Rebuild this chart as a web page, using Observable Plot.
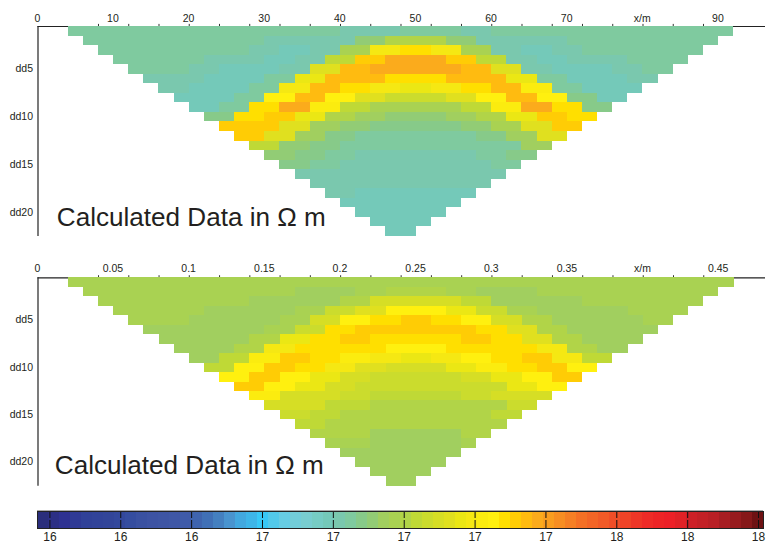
<!DOCTYPE html>
<html>
<head>
<meta charset="utf-8">
<script src="https://cdn.jsdelivr.net/npm/d3@7"></script>
<script src="https://cdn.jsdelivr.net/npm/@observablehq/plot@0.6"></script>
<style>
html,body{margin:0;padding:0;background:#fff;width:768px;height:545px;overflow:hidden}
.p{position:absolute;left:0}
svg{display:block}
</style>
</head>
<body>
<div class="p" id="a" style="top:0"></div>
<div class="p" id="b" style="top:250px"></div>
<div class="p" id="c" style="top:500px"></div>
<script>
const titleText = "Calculated Data in \u03a9 m";

const topRows = [
[16.85,16.85,16.85,16.85,16.85,16.85,16.85,16.85,16.85,16.85,16.85,16.85,16.85,16.85,16.85,16.85,16.85,16.85,16.82,16.82,16.82,16.82,16.85,16.85,16.85,16.85,16.82,16.82,16.85,16.85,16.85,16.85,16.85,16.85,16.85,16.85,16.85,16.85,16.85,16.85,16.85,16.85,16.85,16.85],
[16.85,16.85,16.85,16.85,16.85,16.85,16.85,16.85,16.85,16.85,16.85,16.85,16.82,16.82,16.82,16.82,16.82,16.82,16.91,16.91,17.00,17.00,17.00,17.00,16.91,16.91,16.82,16.82,16.82,16.82,16.82,16.82,16.85,16.85,16.85,16.85,16.85,16.85,16.85,16.85,16.85,16.85],
[16.85,16.85,16.85,16.85,16.85,16.85,16.85,16.85,16.85,16.85,16.82,16.82,16.79,16.79,16.82,16.82,16.97,16.97,17.19,17.19,17.28,17.28,17.19,17.19,16.97,16.97,16.82,16.82,16.79,16.79,16.82,16.82,16.85,16.85,16.85,16.85,16.85,16.85,16.85,16.85],
[16.85,16.85,16.85,16.85,16.85,16.85,16.82,16.82,16.82,16.82,16.79,16.79,16.82,16.82,17.04,17.04,17.32,17.32,17.38,17.38,17.38,17.38,17.32,17.32,17.04,17.04,16.82,16.82,16.79,16.79,16.82,16.82,16.82,16.82,16.85,16.85,16.85,16.85],
[16.85,16.85,16.85,16.85,16.82,16.82,16.79,16.79,16.79,16.79,16.82,16.82,17.13,17.13,17.35,17.35,17.38,17.38,17.38,17.38,17.38,17.38,17.35,17.35,17.13,17.13,16.82,16.82,16.79,16.79,16.79,16.79,16.82,16.82,16.85,16.85],
[16.82,16.82,16.82,16.82,16.79,16.79,16.79,16.79,16.85,16.85,17.16,17.16,17.35,17.35,17.35,17.35,17.28,17.28,17.28,17.28,17.35,17.35,17.35,17.35,17.16,17.16,16.85,16.85,16.79,16.79,16.79,16.79,16.82,16.82],
[16.82,16.82,16.79,16.79,16.79,16.79,16.85,16.85,17.19,17.19,17.35,17.35,17.28,17.28,17.19,17.19,17.16,17.16,17.19,17.19,17.28,17.28,17.35,17.35,17.22,17.22,16.85,16.85,16.79,16.79,16.79,16.79],
[16.79,16.79,16.79,16.79,16.85,16.85,17.25,17.25,17.35,17.35,17.25,17.25,17.13,17.13,17.07,17.07,17.07,17.07,17.13,17.13,17.25,17.25,17.35,17.35,17.25,17.25,16.88,16.88,16.79,16.79],
[16.79,16.79,16.85,16.85,17.28,17.28,17.38,17.38,17.22,17.22,17.04,17.04,16.97,16.97,16.97,16.97,16.97,16.97,17.04,17.04,17.22,17.22,17.38,17.38,17.28,17.28,16.88,16.88],
[16.88,16.88,17.28,17.28,17.32,17.32,17.16,17.16,17.00,17.00,16.94,16.94,16.91,16.91,16.91,16.91,16.94,16.94,17.00,17.00,17.16,17.16,17.32,17.32,17.28,17.28],
[17.32,17.32,17.32,17.32,17.13,17.13,16.94,16.94,16.91,16.91,16.88,16.88,16.88,16.88,16.88,16.88,16.91,16.91,16.97,16.97,17.13,17.13,17.32,17.32],
[17.32,17.32,17.13,17.13,16.94,16.94,16.88,16.88,16.85,16.85,16.85,16.85,16.85,16.85,16.85,16.85,16.88,16.88,16.94,16.94,17.13,17.13],
[17.04,17.04,16.91,16.91,16.88,16.88,16.85,16.85,16.85,16.85,16.85,16.85,16.85,16.85,16.85,16.85,16.85,16.85,16.94,16.94],
[16.91,16.91,16.88,16.88,16.85,16.85,16.82,16.82,16.82,16.82,16.82,16.82,16.82,16.82,16.85,16.85,16.88,16.88],
[16.88,16.88,16.85,16.85,16.82,16.82,16.82,16.82,16.82,16.82,16.82,16.82,16.82,16.82,16.85,16.85],
[16.82,16.82,16.82,16.82,16.82,16.82,16.82,16.82,16.82,16.82,16.82,16.82,16.82,16.82],
[16.82,16.82,16.82,16.82,16.82,16.82,16.82,16.82,16.82,16.82,16.82,16.82],
[16.82,16.82,16.79,16.79,16.79,16.79,16.79,16.79,16.79,16.79],
[16.79,16.79,16.79,16.79,16.79,16.79,16.79,16.79],
[16.79,16.79,16.79,16.79,16.79,16.79],
[16.79,16.79,16.79,16.79],
[16.79,16.79]
];

const bottomRows = [
[16.97,16.97,16.97,16.97,16.97,16.97,16.97,16.97,16.97,16.97,16.97,16.97,16.97,16.97,16.97,16.97,16.97,16.97,16.97,16.97,16.97,16.97,16.97,16.97,16.97,16.97,16.97,16.97,16.97,16.97,16.97,16.97,16.97,16.97,16.97,16.97,16.97,16.97,16.97,16.97,16.97,16.97,16.97,16.97],
[16.97,16.97,16.97,16.97,16.97,16.97,16.97,16.97,16.97,16.97,16.97,16.97,16.97,16.97,16.94,16.94,16.94,16.94,16.97,16.97,17.00,17.00,17.00,17.00,16.97,16.97,16.94,16.94,16.94,16.94,16.97,16.97,16.97,16.97,16.97,16.97,16.97,16.97,16.97,16.97,16.97,16.97],
[16.97,16.97,16.97,16.97,16.97,16.97,16.97,16.97,16.97,16.97,16.94,16.94,16.94,16.94,16.94,16.94,17.00,17.00,17.10,17.10,17.10,17.10,17.10,17.10,17.04,17.04,16.94,16.94,16.94,16.94,16.94,16.94,16.97,16.97,16.97,16.97,16.97,16.97,16.97,16.97],
[16.97,16.97,16.97,16.97,16.97,16.97,16.94,16.94,16.94,16.94,16.94,16.94,16.97,16.97,17.07,17.07,17.13,17.13,17.25,17.25,17.25,17.25,17.16,17.16,17.07,17.07,16.97,16.97,16.94,16.94,16.94,16.94,16.94,16.94,16.97,16.97,16.97,16.97],
[16.97,16.97,16.97,16.97,16.94,16.94,16.94,16.94,16.94,16.94,16.97,16.97,17.10,17.10,17.25,17.25,17.28,17.28,17.32,17.32,17.28,17.28,17.25,17.25,17.10,17.10,17.00,17.00,16.94,16.94,16.94,16.94,16.94,16.94,16.97,16.97],
[16.94,16.94,16.94,16.94,16.94,16.94,16.94,16.94,16.97,16.97,17.07,17.07,17.28,17.28,17.32,17.32,17.32,17.32,17.32,17.32,17.32,17.32,17.28,17.28,17.13,17.13,17.00,17.00,16.94,16.94,16.94,16.94,16.94,16.94],
[16.94,16.94,16.94,16.94,16.94,16.94,17.00,17.00,17.16,17.16,17.28,17.28,17.32,17.32,17.28,17.28,17.28,17.28,17.28,17.28,17.32,17.32,17.28,17.28,17.13,17.13,17.00,17.00,16.94,16.94,16.94,16.94],
[16.94,16.94,16.94,16.94,17.00,17.00,17.19,17.19,17.28,17.28,17.28,17.28,17.28,17.28,17.25,17.25,17.25,17.25,17.28,17.28,17.28,17.28,17.28,17.28,17.19,17.19,17.00,17.00,16.94,16.94],
[16.94,16.94,17.04,17.04,17.22,17.22,17.32,17.32,17.28,17.28,17.22,17.22,17.19,17.19,17.16,17.16,17.19,17.19,17.25,17.25,17.28,17.28,17.32,17.32,17.19,17.19,17.04,17.04],
[17.04,17.04,17.25,17.25,17.32,17.32,17.28,17.28,17.19,17.19,17.13,17.13,17.10,17.10,17.10,17.10,17.16,17.16,17.22,17.22,17.28,17.28,17.32,17.32,17.25,17.25],
[17.25,17.25,17.32,17.32,17.25,17.25,17.16,17.16,17.10,17.10,17.07,17.07,17.07,17.07,17.07,17.07,17.10,17.10,17.16,17.16,17.25,17.25,17.32,17.32],
[17.32,17.32,17.25,17.25,17.16,17.16,17.10,17.10,17.07,17.07,17.07,17.07,17.07,17.07,17.07,17.07,17.07,17.07,17.16,17.16,17.25,17.25],
[17.22,17.22,17.10,17.10,17.10,17.10,17.07,17.07,17.04,17.04,17.04,17.04,17.04,17.04,17.07,17.07,17.10,17.10,17.10,17.10],
[17.10,17.10,17.10,17.10,17.04,17.04,17.04,17.00,17.00,17.00,17.00,17.00,17.00,17.00,17.00,17.00,17.07,17.07],
[17.07,17.07,17.04,17.04,17.00,17.00,17.00,17.00,17.00,17.00,17.00,17.00,17.00,17.00,17.04,17.04],
[17.04,17.04,17.00,17.00,17.00,17.00,17.00,17.00,17.00,17.00,17.00,17.00,17.00,17.00],
[17.00,17.00,17.00,17.00,16.94,16.94,16.94,16.94,16.94,16.94,17.00,17.00],
[16.97,16.97,16.97,16.94,16.94,16.94,16.94,16.94,16.94,16.97],
[16.94,16.94,16.94,16.94,16.94,16.94,16.94,16.94],
[16.94,16.94,16.94,16.94,16.94,16.94],
[16.94,16.94,16.94,16.94],
[16.94,16.94]
];

const bandEdges = [15.965,15.996,16.027,16.058,16.089,16.120,16.151,16.182,16.213,16.244,16.275,16.306,16.337,16.368,16.399,16.430,16.462,16.493,16.524,16.555,16.586,16.617,16.648,16.679,16.710,16.741,16.772,16.803,16.834,16.865,16.896,16.927,16.958,16.989,17.020,17.051,17.083,17.114,17.145,17.176,17.207,17.238,17.269,17.300,17.331,17.362,17.393,17.424,17.455,17.486,17.517,17.548,17.579,17.610,17.641,17.672,17.704,17.735,17.766,17.797,17.828,17.859,17.890,17.921,17.952,17.983,18.014];
const bandColors = ["#2a2e7c","#2c2f85","#2e3192","#2f3a95","#304198","#314399","#324599","#33489c","#354d9f","#3a51a1","#3d53a3","#3e55a4","#3f57a6","#3f5ba9","#3f64ae","#4070b6","#4480c0","#4994cf","#42a8df","#3eb5e8","#38c8f6","#52c9ea","#66cce3","#72cdd9","#78cdd0","#76ccc4","#74c9b9","#7ac8ae","#7fca9f","#87ca89","#92cc75","#a1cf5f","#a9d252","#b1d448","#bfd936","#cbdc2d","#d6de25","#e0e01f","#ebe714","#f5e813","#fbec0f","#fff00f","#ffdf00","#ffcc05","#ffbb10","#fbab1c","#f99d1f","#f78e22","#f57f24","#f47025","#f36526","#f15a27","#f04e27","#ef4327","#ee3627","#ee2b27","#ed2426","#ec2027","#e02126","#cd2027","#c32026","#b91f25","#a71d22","#971b1e","#861819","#6e1213"];
const barTicks = [16.0,16.2,16.4,16.6,16.8,17.0,17.2,17.4,17.6,17.8,18.0];

const topLabelTicks = [0,10,20,30,40,50,60,70,80,90];
const topMinorTicks = [8,12,16,20,24,28,32,36,40,44,48,52,56,60,64,68,72,76,80,84,88];
const bottomLabelTicks = [0,0.05,0.1,0.15,0.2,0.25,0.3,0.35,0.4,0.45];
const bottomMinorTicks = [0.04,0.06,0.08,0.10,0.12,0.14,0.16,0.18,0.20,0.22,0.24,0.26,0.28,0.30,0.32,0.34,0.36,0.38,0.40,0.42,0.44];
const depthTicks = [4.5,9.5,14.5,19.5];
const depthLabels = ["dd5","dd10","dd15","dd20"];

const font = "'Liberation Sans', Arial, sans-serif";
const ink = "#231f20";
const colorScale = {type:"threshold", domain:bandEdges.slice(1,-1), range:bandColors};

function panel(rows, opts){
  const cells = rows.flatMap((r,i)=>r.map((v,j)=>({
    x1:(i+2+j)*opts.cell, x2:(i+3+j)*opts.cell, y1:i, y2:i+1, v
  })));
  return Plot.plot({
    width:768, height:250,
    marginLeft:37.5, marginRight:3, marginTop:opts.marginTop, marginBottom:opts.marginBottom,
    style:{fontFamily:font, background:"#fff", color:ink},
    x:{domain:[0,opts.xMax]},
    y:{domain:[22,0]},
    color:colorScale,
    marks:[
      Plot.ruleY([0],{stroke:"#222",strokeWidth:1.2}),
      Plot.ruleX([0],{y1:0,y2:22,stroke:"#222",strokeWidth:1.2}),
      Plot.ruleX(opts.minor,{y1:0,y2:-0.22,stroke:"#333",strokeWidth:1}),
      Plot.rect(cells,{x1:"x1",x2:"x2",y1:"y1",y2:"y2",fill:"v",shapeRendering:"crispEdges"}),
      Plot.axisX({anchor:"top",ticks:opts.labels,tickSize:0,tickPadding:opts.pad,dx:-0.7,fontSize:10.5,label:null,
        tickFormat:opts.format}),
      Plot.axisY({anchor:"left",ticks:depthTicks,tickSize:0,tickPadding:5,dy:-0.5,fontSize:10.5,label:null,
        tickFormat:d=>depthLabels[depthTicks.indexOf(d)]}),
      Plot.text([titleText],{frameAnchor:"bottom-left",lineAnchor:"bottom",textAnchor:"start",
        dx:opts.titleDx,dy:opts.titleDy,fontSize:26.1,fill:ink})
    ]
  });
}

document.getElementById("a").appendChild(panel(topRows,{
  cell:2, xMax:96.2, marginTop:26, marginBottom:14,
  minor:topMinorTicks, labels:topLabelTicks, pad:5,
  format:d=>d===80?"x/m":String(d),
  titleDx:18.8, titleDy:-11
}));
document.getElementById("b").appendChild(panel(bottomRows,{
  cell:0.01, xMax:0.4808, marginTop:27.3, marginBottom:14.3,
  minor:bottomMinorTicks, labels:bottomLabelTicks, pad:6,
  format:d=>d===0.4?"x/m":String(d),
  titleDx:16.8, titleDy:-12
}));

const bands = bandColors.map((c,i)=>({x1:bandEdges[i],x2:bandEdges[i+1],v:(bandEdges[i]+bandEdges[i+1])/2}));
document.getElementById("c").appendChild(Plot.plot({
  width:768, height:45,
  marginLeft:37, marginRight:5, marginTop:11, marginBottom:17,
  style:{fontFamily:font, background:"#fff", color:ink},
  x:{domain:[15.965,18.014]},
  y:{domain:[0,1],axis:null},
  color:colorScale,
  marks:[
    Plot.rectY(bands,{x1:"x1",x2:"x2",y1:0,y2:1,fill:"v",shapeRendering:"crispEdges"}),
    Plot.ruleX(barTicks,{y1:0,y2:1,stroke:"#111",strokeWidth:1,strokeDasharray:"8,2,8"}),
    Plot.frame({stroke:"#222",strokeWidth:1}),
    Plot.ruleY([1],{dy:-1,stroke:"#aaa",strokeWidth:1}),
    Plot.axisX({anchor:"bottom",ticks:barTicks,tickSize:0,tickPadding:4,fontSize:12,label:null,
      tickFormat:d=>d3.format(".0f")(d)})
  ]
}));
</script>
</body>
</html>
